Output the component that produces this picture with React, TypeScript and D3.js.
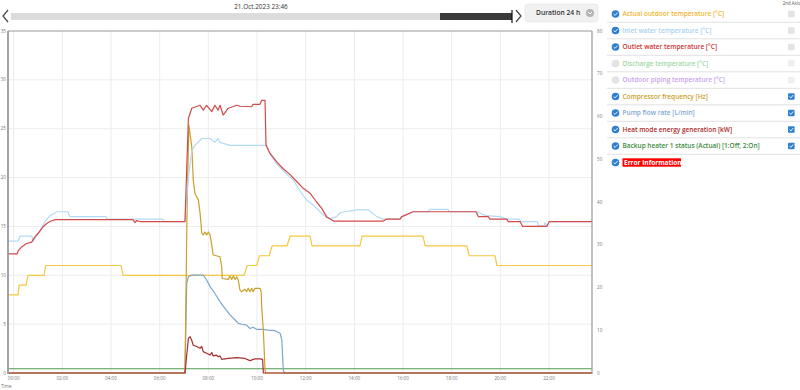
import { useMemo } from 'react';
import * as d3 from 'd3';

type Pt = [number, number];

// time in hours from 00:00 on 21.Oct
const outdoorTemp: Pt[] = [
  [-0.23, 8], [0.18, 8], [0.22, 9], [0.51, 9], [0.59, 10], [1.25, 10], [1.31, 11], [4.41, 11],
  [4.5, 10], [9.47, 10], [9.6, 11], [9.99, 11], [10.1, 12], [10.5, 12], [10.62, 13], [11.23, 13],
  [11.36, 14], [12.18, 14], [12.26, 13], [14.23, 13], [14.32, 14], [16.82, 14], [16.91, 13],
  [18.62, 13], [18.72, 12], [19.78, 12], [19.86, 11], [23.77, 11],
];

const inletTemp: Pt[] = [
  [-0.23, 13.5], [0.18, 13.5], [0.26, 14], [0.75, 14], [0.79, 13.5], [0.9, 13.9], [1.08, 14.6],
  [1.29, 15.5], [1.49, 16.1], [1.78, 16.5], [2.23, 16.5], [2.31, 16], [3.79, 16], [3.85, 15.75],
  [6.13, 15.75], [6.18, 15.5], [7.04, 15.5], [7.18, 20.1], [7.32, 22.7], [7.45, 23.3], [7.73, 24.0],
  [8.07, 24.0], [8.27, 23.6], [8.4, 24.0], [8.48, 23.6], [8.89, 23.3], [10.4, 23.3], [10.45, 22.9],
  [10.53, 22.4], [10.81, 21.4], [11.08, 20.7], [11.29, 20.2], [11.49, 19.75], [11.77, 18.6],
  [12.04, 17.7], [12.31, 17.2], [12.59, 16.5], [12.86, 15.9], [13.0, 15.8], [13.28, 16.0],
  [13.41, 16.4], [13.6, 16.5], [14.1, 16.7], [14.57, 16.7], [14.92, 16.0], [15.19, 15.75],
  [15.88, 15.75], [15.95, 16.0], [16.42, 16.5], [17.03, 16.5], [17.11, 16.75], [17.85, 16.75],
  [17.9, 16.5], [19.0, 16.5], [19.4, 16.1], [19.99, 16.0], [20.26, 15.75], [20.74, 15.75],
  [20.88, 15.5], [21.52, 15.5], [21.56, 15.05], [21.8, 15.05], [21.84, 15.4], [21.91, 15.05],
  [22.01, 15.5], [23.7, 15.5], [23.77, 15.7],
];

const outletTemp: Pt[] = [
  [-0.23, 12.2], [0.15, 12.2], [0.18, 12.5], [0.33, 12.9], [0.53, 13.25], [0.74, 13.4],
  [0.88, 13.95], [1.01, 14.3], [1.22, 15.0], [1.36, 15.3], [1.49, 15.5], [1.7, 15.7], [4.9, 15.7],
  [4.99, 15.4], [5.05, 15.6], [5.19, 15.5], [7.04, 15.5], [7.18, 26.05], [7.32, 27.1], [7.66, 27.4],
  [7.79, 26.9], [7.93, 27.4], [8.14, 26.75], [8.27, 27.4], [8.4, 26.9], [8.48, 27.4], [8.61, 26.4],
  [8.82, 27.1], [9.17, 27.4], [9.3, 27.3], [9.78, 27.25], [9.84, 27.5], [10.12, 27.5], [10.19, 27.9],
  [10.33, 27.9], [10.37, 23.3], [10.53, 22.5], [10.81, 21.6], [11.08, 20.9], [11.36, 20.3],
  [11.63, 19.6], [11.9, 18.9], [12.18, 18.4], [12.45, 17.5], [12.66, 16.85], [12.86, 16.0],
  [13.14, 15.55], [15.19, 15.55], [15.33, 15.75], [15.88, 15.75], [15.95, 16.0], [16.42, 16.5],
  [19.0, 16.5], [19.1, 16.0], [19.5, 16.0], [19.58, 15.75], [20.26, 15.75], [20.33, 15.5],
  [20.81, 15.5], [20.92, 15.0], [21.91, 15.0], [22.01, 15.5], [23.77, 15.5],
];

const compressorFreq: Pt[] = [
  [-0.23, 0], [7.04, 0], [7.13, 40], [7.2, 58], [7.32, 52.9], [7.38, 45.1], [7.45, 42.0],
  [7.59, 40.5], [7.66, 37.4], [7.73, 32.7], [7.79, 32.3], [7.86, 33.0], [7.93, 32.3], [8.0, 33.0],
  [8.07, 32.3], [8.14, 29.9], [8.2, 27.6], [8.48, 27.2], [8.55, 24.8], [8.57, 22.1], [8.82, 21.9],
  [8.89, 22.7], [8.96, 21.9], [9.03, 22.7], [9.1, 21.9], [9.17, 22.5], [9.23, 21.7], [9.3, 19.4],
  [9.37, 19.0], [9.5, 19.6], [9.57, 19.0], [9.64, 19.8], [9.71, 19.0], [9.78, 19.8], [9.84, 19.0],
  [9.91, 19.8], [10.12, 19.8], [10.17, 19.0], [10.19, 15.5], [10.26, 10], [10.33, 0.7],
  [10.36, 0], [23.77, 0],
];

const pumpFlow: Pt[] = [
  [-0.23, 0], [7.04, 0], [7.11, 21.0], [7.18, 22.5], [7.32, 22.9], [7.79, 22.9], [7.93, 21.75],
  [8.07, 20.2], [8.27, 18.6], [8.48, 16.7], [8.68, 15.1], [8.89, 13.6], [9.1, 12.4], [9.23, 11.6],
  [9.37, 11.4], [9.57, 11.2], [9.71, 10.4], [9.84, 10.7], [9.99, 10.2], [10.26, 10.2],
  [10.45, 10.05], [10.74, 9.9], [10.95, 9.3], [11.02, 7.7], [11.08, 0.7], [11.12, 0], [23.77, 0],
];

const heatEnergy: Pt[] = [
  [-0.23, 0], [7.04, 0], [7.18, 8.1], [7.25, 8.5], [7.32, 7.6], [7.38, 6.5], [7.52, 6.2],
  [7.66, 5.8], [7.73, 6.2], [7.79, 5.0], [7.93, 4.6], [8.07, 4.2], [8.14, 4.8], [8.2, 4.0],
  [8.34, 4.2], [8.4, 3.8], [8.48, 4.0], [8.55, 3.2], [8.82, 3.4], [9.17, 3.6], [9.5, 3.4],
  [9.71, 2.9], [9.91, 3.3], [10.12, 3.3], [10.23, 3.2], [10.26, 0], [23.77, 0],
];

const backupHeater: Pt[] = [[-0.23, 1], [23.77, 1]];

const leftTicks = [0, 5, 10, 15, 20, 25, 30, 35];
const rightTicks = [0, 10, 20, 30, 40, 50, 60, 70, 80];
const hourTicks = [0, 2, 4, 6, 8, 10, 12, 14, 16, 18, 20, 22];

const legendItems = [
  { label: 'Actual outdoor temperature [°C]', color: '#f2b632', on: true, second: false },
  { label: 'Inlet water temperature [°C]', color: '#a9d2f2', on: true, second: false },
  { label: 'Outlet water temperature [°C]', color: '#cc3333', on: true, second: false },
  { label: 'Discharge temperature [°C]', color: '#9fd89f', on: false, second: false },
  { label: 'Outdoor piping temperature [°C]', color: '#c9a3f2', on: false, second: false },
  { label: 'Compressor frequency [Hz]', color: '#c9a12a', on: true, second: true },
  { label: 'Pump flow rate [L/min]', color: '#80a9d2', on: true, second: true },
  { label: 'Heat mode energy generation [kW]', color: '#a82a2a', on: true, second: true },
  { label: 'Backup heater 1 status (Actual) [1:Off, 2:On]', color: '#3c8c3c', on: true, second: true },
];

const FONT = '"Open Sans", "Noto Sans", sans-serif';

export default function App() {
  const W = 800;
  const H = 390;
  const plot = { left: 8, right: 592, top: 31, bottom: 373 };

  const x = useMemo(
    () => d3.scaleLinear().domain([-14 / 60, 23 + 46 / 60]).range([plot.left, plot.right]),
    []
  );
  const yL = useMemo(() => d3.scaleLinear().domain([0, 35]).range([plot.bottom, plot.top]), []);
  const yR = useMemo(() => d3.scaleLinear().domain([0, 80]).range([plot.bottom, plot.top]), []);

  const lineL = d3.line<Pt>().x(d => x(d[0])).y(d => yL(d[1]));
  const lineR = d3.line<Pt>().x(d => x(d[0])).y(d => yR(d[1]));

  const series = [
    { data: backupHeater, line: lineR, color: '#4f9a4f' },
    { data: outdoorTemp, line: lineL, color: '#f5c842' },
    { data: pumpFlow, line: lineR, color: '#7fa6cc' },
    { data: compressorFreq, line: lineR, color: '#c9a12a' },
    { data: inletTemp, line: lineL, color: '#b3daf5' },
    { data: outletTemp, line: lineL, color: '#d24a4a' },
    { data: heatEnergy, line: lineR, color: '#a83030' },
  ];

  const fmtHour = (h: number) => `${String(h).padStart(2, '0')}:00`;

  const rowH = 16.5;
  const rowY = (i: number) => 14 + i * rowH;
  const legendFont = 6.5;

  return (
    <svg
      width={W}
      height={H}
      viewBox={`0 0 ${W} ${H}`}
      style={{ position: 'absolute', left: 0, top: 0, fontFamily: FONT, background: '#fff' }}
    >
      {/* header: date + slider */}
      <text x={261} y={8.5} textAnchor="middle" fontSize={6.4} fill="#333">21.Oct.2023 23:46</text>
      <path d="M8,10 L3,16 L8,22" fill="none" stroke="#444" strokeWidth={1.2} />
      <rect x={11} y={13} width={501} height={7} fill="#dcdcdc" />
      <rect x={440} y={13} width={72} height={7} fill="#3a3a3a" />
      <line x1={512} x2={512} y1={10} y2={23} stroke="#111" strokeWidth={1.2} />
      <path d="M516,10 L521,16 L516,22" fill="none" stroke="#444" strokeWidth={1.2} />

      <rect x={525} y={4} width={73} height={18} rx={3} fill="#f1f1f1" stroke="#e2e2e2" strokeWidth={0.6} />
      <text x={536} y={15.3} fontSize={6.7} fontWeight={600} fill="#333">Duration 24 h</text>
      <circle cx={590} cy={13} r={4} fill="#b5b5b5" />
      <path d="M588,12 L590,14 L592,12" fill="none" stroke="#fff" strokeWidth={1} />

      {/* grid */}
      {leftTicks.slice(1, -1).map(t => (
        <line key={`hg${t}`} x1={plot.left} x2={plot.right} y1={yL(t)} y2={yL(t)} stroke="#ececec" strokeWidth={1} />
      ))}
      {hourTicks.map(h => (
        <line key={`vg${h}`} x1={x(h)} x2={x(h)} y1={plot.top} y2={plot.bottom} stroke="#ececec" strokeWidth={1} />
      ))}

      {/* series */}
      {series.map((s, i) => (
        <path key={i} d={s.line(s.data) ?? ''} fill="none" stroke={s.color} strokeWidth={1.2} strokeLinejoin="round" />
      ))}

      {/* frame */}
      <line x1={plot.left} x2={plot.right} y1={plot.top} y2={plot.top} stroke="#999" strokeWidth={1.2} />
      <line x1={plot.left} x2={plot.left} y1={plot.top} y2={plot.bottom + 1} stroke="#999" strokeWidth={1.8} />
      <line x1={plot.right} x2={plot.right} y1={plot.top} y2={plot.bottom + 1} stroke="#999" strokeWidth={1.2} />

      {/* left axis labels */}
      {leftTicks.map(t => (
        <text key={`lt${t}`} x={6} y={yL(t) + 1.6} textAnchor="end" fontSize={4.6} fill="#777">{t}</text>
      ))}
      {/* right axis labels */}
      {rightTicks.map(t => (
        <text key={`rt${t}`} x={597} y={yR(t) + 1.6} fontSize={4.6} fill="#777">{t}</text>
      ))}
      {/* x axis labels */}
      {hourTicks.map(h => (
        <text key={`xt${h}`} x={x(h)} y={380} textAnchor="middle" fontSize={4.6} fill="#777">{fmtHour(h)}</text>
      ))}
      <text x={1} y={388} fontSize={4.6} fill="#777">Time</text>

      {/* legend */}
      <text x={800} y={5} textAnchor="end" fontSize={4.4} fill="#555">2nd Axis</text>
      {legendItems.map((it, i) => {
        const cy = rowY(i);
        return (
          <g key={it.label}>
            {it.on ? (
              <g>
                <circle cx={615.5} cy={cy} r={3.8} fill="#2f7fd0" />
                <path d={`M613.6,${cy} L615,${cy + 1.4} L617.6,${cy - 1.4}`} fill="none" stroke="#fff" strokeWidth={0.9} />
              </g>
            ) : (
              <circle cx={615.5} cy={cy} r={3.8} fill="#e3e3e3" />
            )}
            <text x={622.5} y={cy + 2.3} fontSize={legendFont} fontWeight={600} fill={it.color}>{it.label}</text>
            {it.second ? (
              <g>
                <rect x={788} y={cy - 3.3} width={6.6} height={6.6} rx={1} fill="#2f7fd0" />
                <path d={`M789.4,${cy} L790.9,${cy + 1.4} L793.2,${cy - 1.5}`} fill="none" stroke="#fff" strokeWidth={0.9} />
              </g>
            ) : (
              <rect x={788} y={cy - 3.3} width={6.6} height={6.6} rx={1} fill={it.on ? '#e3e3e3' : '#efefef'} />
            )}
            <line x1={607} x2={800} y1={cy + 8.3} y2={cy + 8.3} stroke="#e2e2e2" strokeWidth={1} />
          </g>
        );
      })}
      {(() => {
        const cy = rowY(9);
        return (
          <g>
            <circle cx={615.5} cy={cy} r={3.8} fill="#2f7fd0" />
            <path d={`M613.6,${cy} L615,${cy + 1.4} L617.6,${cy - 1.4}`} fill="none" stroke="#fff" strokeWidth={0.9} />
            <rect x={622.5} y={cy - 4.2} width={58.5} height={8.4} fill="#ff0000" />
            <text x={624} y={cy + 2.3} fontSize={legendFont} fontWeight={700} fill="#fff">Error Information</text>
          </g>
        );
      })()}
    </svg>
  );
}
